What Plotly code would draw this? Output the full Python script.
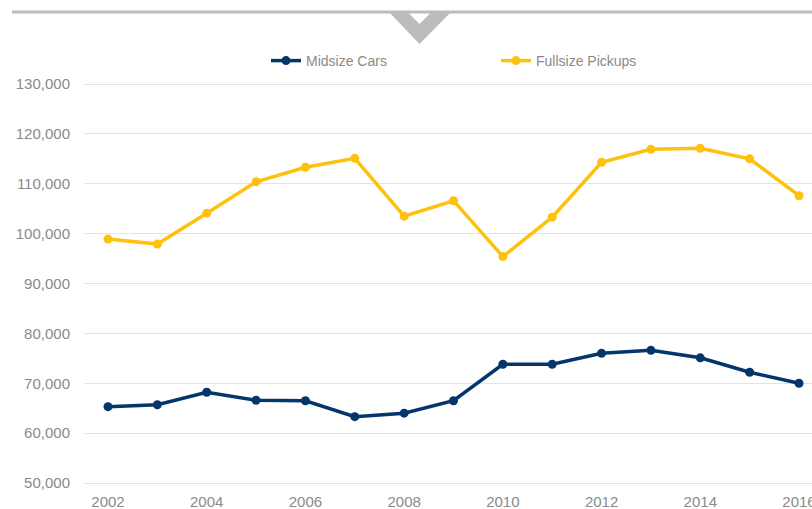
import plotly.graph_objects as go

# Annual sales by segment
years = list(range(2002, 2017))
midsize_cars = [65300, 65700, 68200, 66600, 66500, 63300, 64000, 66500,
                73800, 73800, 76000, 76600, 75100, 72200, 70000]
fullsize_pickups = [98900, 97900, 104100, 110400, 113300, 115100, 103500, 106600,
                    95400, 103300, 114300, 116900, 117100, 115000, 107600]

series_names = ["Midsize Cars", "Fullsize Pickups"]
series_colors = ["#05366b", "#fec10e"]
y_ticks = [50000, 60000, 70000, 80000, 90000, 100000, 110000, 120000, 130000]
x_ticks = [2002, 2004, 2006, 2008, 2010, 2012, 2014, 2016]

W, H = 812, 509
M_L, M_R, M_T, M_B = 84, 0, 74, 18
PW, PH = W - M_L - M_R, H - M_T - M_B


def px(x):
    return (x - M_L) / PW


def py(y):
    return (H - M_B - y) / PH


fig = go.Figure()
for name, vals, col in zip(series_names, [midsize_cars, fullsize_pickups], series_colors):
    fig.add_trace(go.Scatter(
        x=years, y=vals, name=name, mode="lines+markers",
        line=dict(color=col, width=3.5),
        marker=dict(color=col, size=9),
    ))

grey = "#bcbcbc"
# top rule and chevron
fig.add_shape(type="line", xref="paper", yref="paper",
              x0=px(12), x1=px(812), y0=py(12), y1=py(12),
              line=dict(color=grey, width=3))
fig.add_shape(type="path", xref="paper", yref="paper",
              path=f"M {px(388)},{py(11)} L {px(452)},{py(11)} L {px(419.5)},{py(44)} Z",
              fillcolor=grey, line=dict(width=0))
fig.add_shape(type="path", xref="paper", yref="paper",
              path=f"M {px(409)},{py(13.5)} L {px(430)},{py(13.5)} L {px(419.5)},{py(24)} Z",
              fillcolor="white", line=dict(width=0))

font_fam = "Liberation Sans, Arial, sans-serif"
tick_col = "#8a8a8a"

# y range chosen so 130,000 sits at y=84 and 50,000 at y=483
units_per_px = 80000 / 399
y_lo = 50000 - (H - M_B - 483) * units_per_px
y_hi = 130000 + (84 - M_T) * units_per_px
year_px = (799 - 108) / 14
x_lo = 2002 - (108 - M_L) / year_px
x_hi = 2016 + (W - M_R - 799) / year_px

fig.update_layout(
    width=W, height=H,
    margin=dict(l=M_L, r=M_R, t=M_T, b=M_B, autoexpand=False),
    paper_bgcolor="white", plot_bgcolor="white",
    font=dict(family=font_fam, color=tick_col, size=15),
    showlegend=True,
    legend=dict(orientation="h", x=px(266), xanchor="left", y=py(61), yanchor="middle",
                entrywidth=185, entrywidthmode="pixels", itemwidth=30,
                font=dict(size=14, color=tick_col), bgcolor="rgba(0,0,0,0)"),
    xaxis=dict(range=[x_lo, x_hi], tickvals=x_ticks, showgrid=False, zeroline=False,
               showline=False, ticks="", tickfont=dict(size=15, color=tick_col),
               ticklabeloverflow="allow", automargin=False, fixedrange=True),
    yaxis=dict(range=[y_lo, y_hi], tickvals=y_ticks, tickformat=",d",
               showgrid=True, gridcolor="#e3e3e3", gridwidth=1, zeroline=False,
               showline=False, ticks="", ticklabelstandoff=13,
               tickfont=dict(size=15, color=tick_col), automargin=False, fixedrange=True),
)

fig.write_html("out.html")
